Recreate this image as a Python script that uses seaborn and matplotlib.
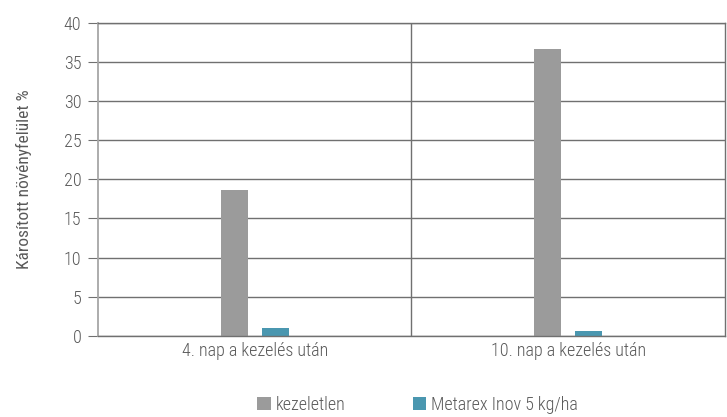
import numpy as np
import pandas as pd
import seaborn as sns
import matplotlib.pyplot as plt
from matplotlib import font_manager

# data
categories = ['4. nap a kezelés után', '10. nap a kezelés után']
series = ['kezeletlen', 'Metarex Inov 5 kg/ha']
kezeletlen = [18.6, 36.6]
metarex = [1.0, 0.6]
colors = ['#9b9b9b', '#4a97b0']

data = pd.DataFrame({
    'nap': categories * 2,
    'kezeles': [series[0]] * 2 + [series[1]] * 2,
    'ertek': kezeletlen + metarex,
})

sns.set_style('white')
# narrow font if there is one, else a light one
names = {f.name for f in font_manager.fontManager.ttflist}
fam = [n for n in ['Roboto Condensed', 'Liberation Sans Narrow', 'Open Sans Condensed',
                   'Roboto', 'Liberation Sans'] if n in names][:1]
plt.rcParams['font.family'] = fam + ['DejaVu Sans']
plt.rcParams['font.weight'] = 'light'

txt = '#595959'
fs = 13
fig = plt.figure(figsize=(7.27, 4.17), dpi=100)
ax = fig.add_axes([0.1348, 0.1942, 0.997 - 0.1348, 0.946 - 0.1942])

sns.barplot(data=data, x='nap', y='ertek', hue='kezeles', palette=colors,
            width=0.26, gap=0.34, ax=ax, legend=True, saturation=1,
            linewidth=0)

ax.set_xlim(-0.5, 1.5)
ax.set_ylim(0, 40)
ax.set_yticks(np.arange(0, 41, 5))
ax.yaxis.grid(True, color='#707070', lw=1)
ax.set_axisbelow(True)
ax.axvline(0.5, color='#707070', lw=1, zorder=0)

for s in ['top', 'right', 'bottom']:
    ax.spines[s].set_color('#707070')
    ax.spines[s].set_linewidth(1)
ax.spines['left'].set_color('#a6a6a6')
ax.spines['left'].set_linewidth(1.3)

ax.tick_params(axis='y', direction='out', length=7, color='#707070',
               labelsize=13, labelcolor=txt, pad=5, left=True)
ax.tick_params(axis='x', length=0, labelsize=fs, labelcolor=txt, pad=4)
ax.set_xlabel('')
ax.set_ylabel('Károsított növényfelület %', fontsize=12.5, color=txt, labelpad=23)

ax.legend(loc='center', bbox_to_anchor=(0.51, -0.22), ncol=2, frameon=False,
          fontsize=fs, labelcolor=txt, handlelength=0.75, handleheight=0.75,
          handletextpad=0.3, columnspacing=3.7)

fig.savefig('out.png', dpi=100)
